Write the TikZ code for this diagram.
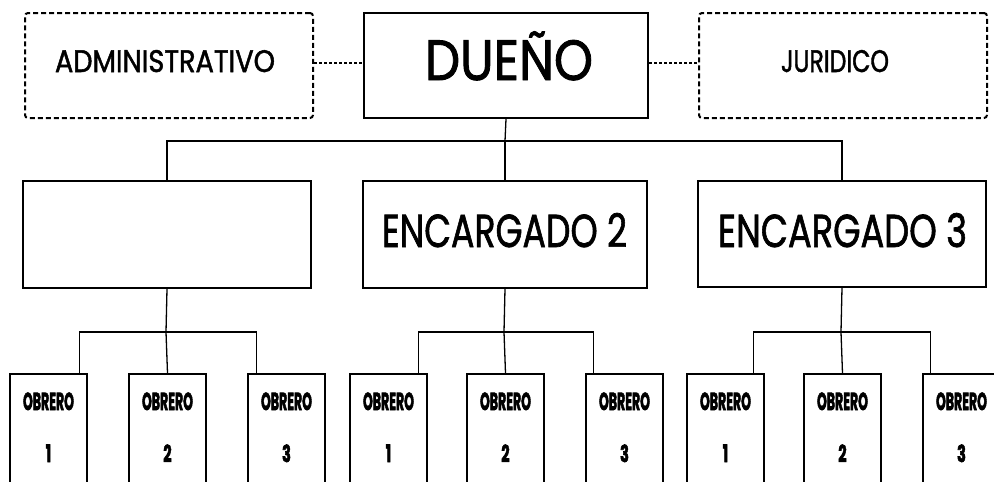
\documentclass[tikz,border=0pt]{standalone}
\usepackage{fontspec}
\usepackage{graphicx}
\newfontfamily\geo{Poppins}[FakeBold=1.6]
\newfontfamily\geob{Poppins}[FakeBold=3]
\newcommand\fitwh[3]{\resizebox{#1}{#2}{#3}}
\tikzset{
  boxn/.style={draw, line width=2pt, inner sep=0pt, anchor=north west},
  dashbox/.style={draw, line width=2pt, dash pattern=on 5pt off 3pt, rounded corners=3pt, inner sep=0pt, anchor=north west},
  obbox/.style={boxn, minimum width=77pt, minimum height=140pt},
  conn/.style={line width=1.3pt},
  dotconn/.style={line width=1.7pt, dash pattern=on 3pt off 2pt},
  txt/.style={anchor=base, inner sep=0pt, font=\geo\fontsize{30pt}{36pt}\selectfont},
  obtxt/.style={anchor=base, inner sep=0pt, font=\geob\bfseries\fontsize{24pt}{28pt}\selectfont},
}
\newcommand\obw{\fitwh{51pt}{17.5pt}{OBRERO}}
\newcommand\num[1]{\resizebox{!}{17.5pt}{\scalebox{0.62}[1]{#1}}}
\begin{document}
\begin{tikzpicture}[x=1pt,y=-1pt]
\clip (0,0) rectangle (994,482);
% top row
\node[dashbox, minimum width=288pt, minimum height=105pt] (adm) at (24,12) {};
\node[boxn, minimum width=284pt, minimum height=105pt] (due) at (363,12) {};
\node[dashbox, minimum width=288pt, minimum height=105pt] (jur) at (698,12) {};
\node[txt] (admt) at (165,72) {\fitwh{220pt}{22pt}{ADMINISTRATIVO}};
\node[txt] (duet) at (509,80) {\fitwh{168pt}{40pt}{DUE\smash{Ñ}O}};
\node[txt] (jurt) at (835,72) {\fitwh{108pt}{22pt}{JURIDICO}};
% middle row
\node[boxn, minimum width=288pt, minimum height=107pt] (e1) at (22,180) {};
\node[boxn, minimum width=284pt, minimum height=107pt] (e2) at (362,180) {};
\node[boxn, minimum width=288pt, minimum height=106pt] (e3) at (697,180) {};
\node[txt] (e2t) at (504.5,247) {\fitwh{245pt}{34pt}{ENCARGADO 2}};
\node[txt] (e3t) at (842.5,247) {\fitwh{249pt}{34pt}{ENCARGADO 3}};
% workers
\foreach \g/\a/\b/\c in {1/9/128/247, 2/349/466/585, 3/686/803/922}{
  \node[obbox] (o\g1) at (\a,373) {};
  \node[obbox] (o\g2) at (\b,373) {};
  \node[obbox] (o\g3) at (\c,373) {};
  \foreach \k in {1,2,3}{
    \node[obtxt] (o\g\k t) at ([yshift=-37pt]o\g\k.north) {\obw};
    \node[obtxt] (o\g\k n) at ([yshift=-89pt]o\g\k.north) {\num{\k}};
  }
}
% dotted links
\draw[dotconn] ([yshift=2.5pt]adm.east) -- ([yshift=2.5pt]due.west);
\draw[dotconn] ([yshift=2.5pt]due.east) -- ([yshift=2.5pt]jur.west);
% main tree
\coordinate (b0) at (505,141);
\draw[conn] (due.south) -- (b0);
\draw[conn] (e1.north) |- (b0) -| (e3.north);
\draw[conn] (b0) -- (e2.north);
% sub trees
\coordinate (j1) at (166,332);
\coordinate (j2) at (504,332);
\coordinate (j3) at (841,332);
\draw[conn] (e1.south) -- (j1);
\draw[conn] (e2.south) -- (j2);
\draw[conn] (e3.south) -- (j3);
\draw[conn] ([xshift=31pt]o11.north) |- (j1) -| ([xshift=-30pt]o13.north);
\draw[conn] (j1) -- (o12.north);
\draw[conn] ([xshift=30pt]o21.north) |- (j2) -| ([xshift=-31pt]o23.north);
\draw[conn] (j2) -- (o22.north);
\draw[conn] ([xshift=28pt]o31.north) |- (j3) -| ([xshift=-31pt]o33.north);
\draw[conn] (j3) -- (o32.north);
\end{tikzpicture}
\end{document}
